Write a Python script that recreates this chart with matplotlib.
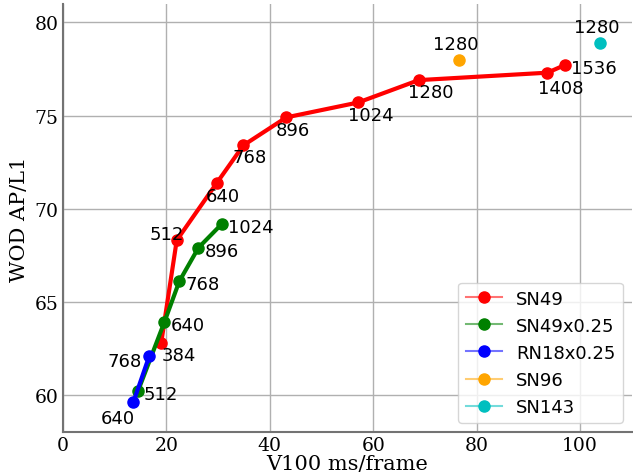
import numpy as np
from matplotlib import pyplot as plt
from matplotlib.colors import to_rgba

# V100 latency (ms/frame) vs WOD AP/L1, labels are input resolutions
sn49_x = [19.0, 22.0, 29.8, 34.9, 43.2, 57.1, 68.8, 93.7, 97.0]
sn49_y = [62.8, 68.3, 71.4, 73.4, 74.9, 75.7, 76.9, 77.3, 77.7]
sn49_res = [384, 512, 640, 768, 896, 1024, 1280, 1408, 1536]

sn49q_x = [14.5, 19.6, 22.5, 26.2, 30.8]
sn49q_y = [60.2, 63.9, 66.1, 67.9, 69.2]
sn49q_res = [512, 640, 768, 896, 1024]

rn18q_x = [13.6, 16.7]
rn18q_y = [59.6, 62.1]
rn18q_res = [640, 768]

sn96_x, sn96_y, sn96_res = [76.5], [78.0], [1280]
sn143_x, sn143_y, sn143_res = [103.8], [78.9], [1280]

# label offsets in pixels (dx, dy) and alignment
sn49_off = [(0, -12, 'left'), (7, 6, 'right'), (6, -13, 'center'), (6, -12, 'center'),
            (7, -13, 'center'), (13, -13, 'center'), (12, -12, 'center'),
            (13, -15, 'center'), (6, -3, 'left')]
sn49q_off = [(6, -3, 'left')] * 5
rn18q_off = [(-15, -16, 'center'), (-8, -5, 'right')]

fig = plt.figure(figsize=(6.33, 4.77), dpi=100)
ax = fig.add_subplot()

def draw(xs, ys, res, offs, color, label):
    ax.plot(xs, ys, '-o', color=color, lw=3, ms=8, label=label)
    for x, y, r, (dx, dy, ha) in zip(xs, ys, res, offs):
        ax.annotate(str(r), (x, y), xytext=(dx, dy), textcoords='offset pixels',
                    ha=ha, va='center', fontsize=13)

draw(sn49_x, sn49_y, sn49_res, sn49_off, 'r', 'SN49')
draw(sn49q_x, sn49q_y, sn49q_res, sn49q_off, 'g', 'SN49x0.25')
draw(rn18q_x, rn18q_y, rn18q_res, rn18q_off, 'b', 'RN18x0.25')
draw(sn96_x, sn96_y, sn96_res, [(-3, 16, 'center')], 'orange', 'SN96')
draw(sn143_x, sn143_y, sn143_res, [(-3, 16, 'center')], 'c', 'SN143')

ax.set_xlim(0, 110)
ax.set_ylim(58, 81)
ax.set_xticks([0, 20, 40, 60, 80, 100])
ax.set_yticks([60, 65, 70, 75, 80])
ax.grid(True, color='#b0b0b0', lw=1)
ax.set_axisbelow(True)
for s in ['top', 'right']:
    ax.spines[s].set_visible(False)
for s in ['left', 'bottom']:
    ax.spines[s].set_color('0.45')
    ax.spines[s].set_linewidth(1.5)
ax.tick_params(length=0, labelsize=13.5, pad=3)
for t in ax.get_xticklabels() + ax.get_yticklabels():
    t.set_family('DejaVu Serif')
ax.set_xlabel('V100 ms/frame', family='DejaVu Serif', fontsize=15, labelpad=0)
ax.set_ylabel('WOD AP/L1', family='DejaVu Serif', fontsize=15)
leg = ax.legend(loc='lower right', fontsize=13)
for h in leg.get_lines():
    c = h.get_color()
    h.set_color(to_rgba(c, 0.55))
    h.set_linewidth(1.5)
    h.set_markerfacecolor(c)
    h.set_markeredgecolor(c)

fig.subplots_adjust(left=0.0995, right=0.998, bottom=0.092, top=0.99)
fig.savefig('out.png')
